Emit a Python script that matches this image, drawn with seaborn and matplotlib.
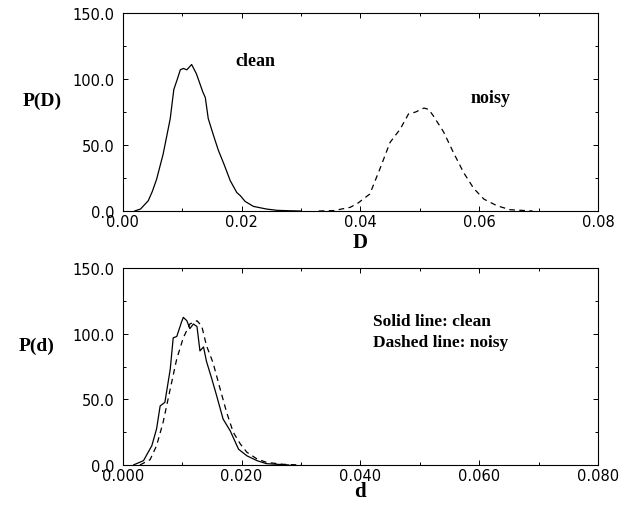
'''
Distributions of D and d for clean and noisy signals
'''
import pandas as pnd
import seaborn as sns
import matplotlib
matplotlib.use('Agg')
import matplotlib.pyplot as plt
from matplotlib.ticker import MultipleLocator, FormatStrFormatter

# ----------------------
# top panel: P(D)
D_clean = [0.0020, 0.0030, 0.0043, 0.0050, 0.0057, 0.0068, 0.0080, 0.0086, 0.0092, 0.0097,
           0.0102, 0.0108, 0.0116, 0.0124, 0.0135, 0.0139, 0.0144, 0.0153, 0.0161, 0.0170,
           0.0181, 0.0192, 0.0198, 0.0206, 0.0220, 0.0242, 0.0260, 0.0280, 0.0300]
P_D_clean = [0, 1.5, 7.8, 15, 24, 43, 70, 92, 100, 107,
             108, 107, 111, 104, 90, 86, 70, 57, 46, 36,
             23, 14, 11.6, 7.3, 3.5, 1.5, 0.5, 0.2, 0]

D_noisy = [0.0330, 0.0355, 0.0383, 0.0396, 0.0416, 0.0433, 0.0450, 0.0467, 0.0481, 0.0493,
           0.0507, 0.0515, 0.0523, 0.0540, 0.0557, 0.0574, 0.0591, 0.0608, 0.0630, 0.0652, 0.0690]
P_D_noisy = [0, 0.3, 2.8, 6, 12.9, 32, 52, 62, 73.5, 75,
             78, 77, 72, 60, 44, 29, 17, 9, 4, 1, 0]

# bottom panel: P(d)
d_clean = [0.0018, 0.0035, 0.0049, 0.0057, 0.0063, 0.0071, 0.0080, 0.0085, 0.0091, 0.0099,
           0.0102, 0.0108, 0.0113, 0.0119, 0.0125, 0.0130, 0.0136, 0.0141, 0.0150, 0.0158,
           0.0169, 0.0181, 0.0195, 0.0209, 0.0226, 0.0242, 0.0260, 0.0280]
P_d_clean = [0, 3.3, 14.7, 27.5, 45, 47.8, 73, 97, 98, 109,
             112.6, 110, 104, 107.5, 105.6, 87, 90, 79, 65.6, 53,
             35, 26, 12, 7, 3.3, 1, 0.5, 0]

d_noisy = [0.0029, 0.0046, 0.0057, 0.0068, 0.0080, 0.0091, 0.0102, 0.0113, 0.0125, 0.0133,
           0.0141, 0.0152, 0.0164, 0.0175, 0.0186, 0.0198, 0.0209, 0.0226, 0.0242, 0.0270, 0.0300]
P_d_noisy = [0, 4, 14.7, 32.5, 58, 81, 97, 107.5, 110, 106,
             91, 78, 58, 40, 25, 16, 9.7, 4.6, 2, 0.5, 0]

sns.set_style('ticks')
plt.rcParams['font.family'] = ['DejaVu Sans']
SERIF = dict(family='Liberation Serif', weight='bold', color='black')
DASH = (0, (4.5, 3.5))
# ----------------------
def _style_axis(ax, xfmt, xlab, ylab, xlab_y, ylab_xy):
    ax.set_xlim(0, 0.08)
    ax.set_ylim(0, 150)
    ax.xaxis.set_major_locator(MultipleLocator(0.02))
    ax.xaxis.set_minor_locator(MultipleLocator(0.01))
    ax.yaxis.set_major_locator(MultipleLocator(50))
    ax.yaxis.set_minor_locator(MultipleLocator(25))
    ax.xaxis.set_major_formatter(FormatStrFormatter(xfmt))
    ax.yaxis.set_major_formatter(FormatStrFormatter('%.1f'))
    ax.tick_params(which='both', direction='in', top=True, right=True, width=0.7, colors='black')
    ax.tick_params(which='major', length=3.5)
    ax.tick_params(which='minor', length=2.5)
    ax.tick_params(axis='x', which='major', pad=2.5, labelsize=10.5)
    ax.tick_params(axis='y', which='major', pad=6, labelsize=10.5)
    for sp in ax.spines.values():
        sp.set_visible(True)
        sp.set_linewidth(0.8)
        sp.set_color('black')
    ax.set_xlabel(xlab, fontsize=15, va='center', ha='center', **SERIF)
    ax.set_ylabel(ylab, fontsize=14, rotation=0, va='center', ha='center', **SERIF)
    ax.xaxis.set_label_coords(0.499, xlab_y)
    ax.yaxis.set_label_coords(*ylab_xy)
    if ax.get_legend() is not None:
        ax.get_legend().remove()
# ----------------------
def main():
    fig = plt.figure(figsize=(6.28, 5.06), dpi=100)
    ax1 = fig.add_axes([0.1954, 0.581, 0.7568, 0.3913])
    ax2 = fig.add_axes([0.1954, 0.0791, 0.7568, 0.3887])

    sns.lineplot(data=pnd.DataFrame({'x': D_clean, 'y': P_D_clean}), x='x', y='y',
                 ax=ax1, color='black', lw=0.9)
    sns.lineplot(data=pnd.DataFrame({'x': D_noisy, 'y': P_D_noisy}), x='x', y='y',
                 ax=ax1, color='black', lw=0.9, linestyle=DASH)
    ax1.text(0.0223, 114, 'clean', ha='center', va='center', fontsize=13, **SERIF)
    ax1.text(0.0619, 86, 'noisy', ha='center', va='center', fontsize=13, **SERIF)
    _style_axis(ax1, '%.2f', 'D', 'P(D)', -0.157, (-0.17, 0.56))

    sns.lineplot(data=pnd.DataFrame({'x': d_clean, 'y': P_d_clean}), x='x', y='y',
                 ax=ax2, color='black', lw=0.9)
    sns.lineplot(data=pnd.DataFrame({'x': d_noisy, 'y': P_d_noisy}), x='x', y='y',
                 ax=ax2, color='black', lw=0.9, linestyle=DASH)
    ax2.text(0.0421, 110, 'Solid line: clean', ha='left', va='center', fontsize=12.5, **SERIF)
    ax2.text(0.0421, 93.6, 'Dashed line: noisy', ha='left', va='center', fontsize=12.5, **SERIF)
    _style_axis(ax2, '%.3f', 'd', 'P(d)', -0.13, (-0.182, 0.607))

    fig.savefig('out.png', dpi=100)
# ----------------------
if __name__ == '__main__':
    main()
